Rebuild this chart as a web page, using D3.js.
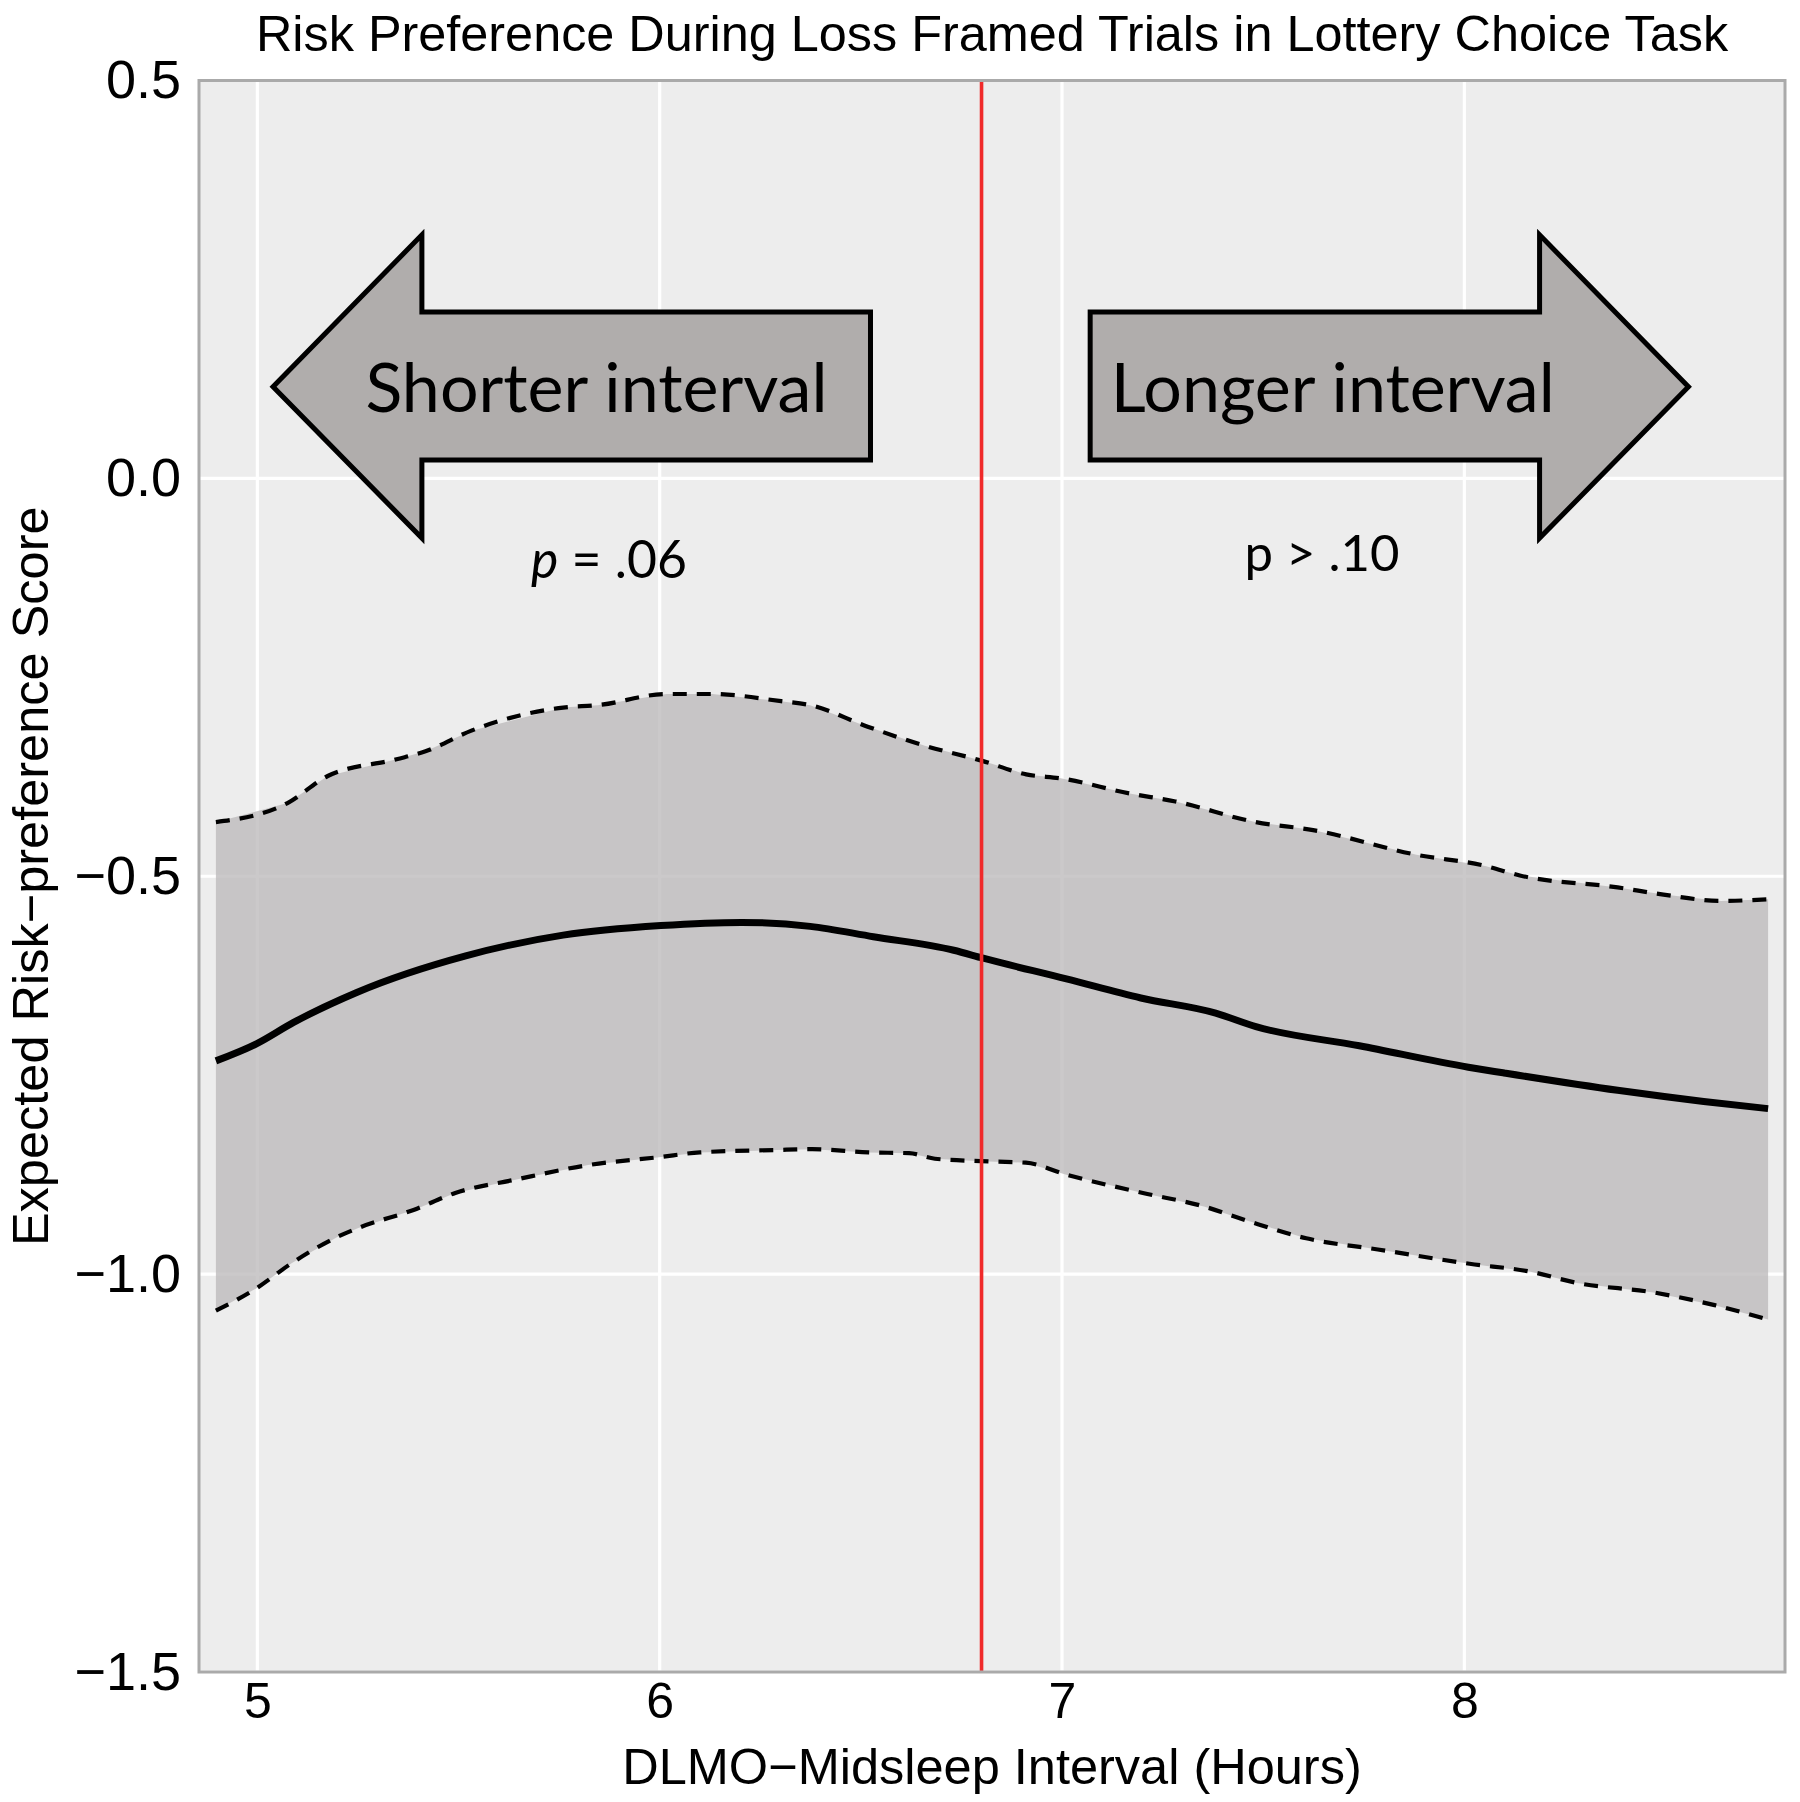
<!DOCTYPE html>
<html>
<head>
<meta charset="utf-8">
<script src="https://cdn.jsdelivr.net/npm/d3@7"></script>
<style>
  html, body { margin: 0; padding: 0; background: #ffffff; }
  svg { display: block; }
</style>
</head>
<body>
<svg id="chart" width="1800" height="1802"></svg>
<script>
// ---------------- data ----------------
const titleText = "Risk Preference During Loss Framed Trials in Lottery Choice Task";
const xLabelText = "DLMO\u2212Midsleep Interval (Hours)";
const yLabelText = "Expected Risk\u2212preference Score";

const xTicks = [5, 6, 7, 8];
const xTickLabels = ["5", "6", "7", "8"];
const yTicks = [0.5, 0.0, -0.5, -1.0, -1.5];
const yTickLabels = ["0.5", "0.0", "\u22120.5", "\u22121.0", "\u22121.5"];

const xDomain = [4.855, 8.797];
const yDomain = [-1.5, 0.5];

const cutoffX = 6.8;

// fitted mean
const fitX = [4.897, 5.0, 5.089, 5.247, 5.518, 5.760, 6.003, 6.203, 6.374, 6.531, 6.731, 6.804, 7.011, 7.196, 7.382, 7.482, 7.739, 8.010, 8.096, 8.381, 8.595, 8.755];
const fitY = [-0.732, -0.710, -0.684, -0.646, -0.600, -0.574, -0.562, -0.558, -0.563, -0.576, -0.593, -0.603, -0.629, -0.653, -0.672, -0.689, -0.713, -0.740, -0.747, -0.769, -0.783, -0.792];

// upper bound
const upperX = [4.897, 5.075, 5.175, 5.346, 5.418, 5.532, 5.760, 5.846, 6.017, 6.131, 6.302, 6.374, 6.517, 6.659, 6.802, 6.911, 6.997, 7.168, 7.282, 7.482, 7.624, 7.881, 8.052, 8.138, 8.381, 8.495, 8.638, 8.755];
const upperY = [-0.432, -0.408, -0.374, -0.353, -0.343, -0.317, -0.288, -0.285, -0.271, -0.271, -0.280, -0.285, -0.312, -0.336, -0.355, -0.372, -0.377, -0.396, -0.406, -0.432, -0.442, -0.473, -0.487, -0.499, -0.514, -0.523, -0.531, -0.529];

// lower bound
const lowerX = [4.897, 4.997, 5.086, 5.200, 5.251, 5.390, 5.492, 5.644, 5.822, 5.999, 6.100, 6.291, 6.379, 6.519, 6.620, 6.684, 6.798, 6.910, 7.011, 7.201, 7.353, 7.455, 7.607, 7.785, 8.013, 8.165, 8.279, 8.470, 8.622, 8.755];
const lowerY = [-1.046, -1.018, -0.986, -0.953, -0.942, -0.919, -0.898, -0.881, -0.863, -0.853, -0.847, -0.844, -0.843, -0.847, -0.848, -0.855, -0.858, -0.860, -0.875, -0.898, -0.915, -0.932, -0.955, -0.969, -0.987, -0.997, -1.011, -1.023, -1.039, -1.057];

// annotation arrows (data units)
const leftArrow  = {tip: 5.039, head: 5.409, tail: 6.524, mid: 0.115, headTop: 0.306, headBottom: -0.075, shaftTop: 0.209, shaftBottom: 0.023, label: "Shorter interval", labelX: 5.843};
const rightArrow = {tip: 8.557, head: 8.187, tail: 7.070, mid: 0.115, headTop: 0.306, headBottom: -0.075, shaftTop: 0.209, shaftBottom: 0.023, label: "Longer interval", labelX: 7.673};
const pLeft  = {x: 5.874, y: -0.125, italic: "p", rest: " = .06"};
const pRight = {x: 7.646, y: -0.116, italic: "", rest: "p > .10"};

// ---------------- layout ----------------
const W = 1800, H = 1802;
const margin = {left: 199, top: 80.5, right: 15, bottom: 130};
const pw = W - margin.left - margin.right;
const ph = H - margin.top - margin.bottom;

const svg = d3.select("#chart");
const x = d3.scaleLinear().domain(xDomain).range([0, pw]);
const y = d3.scaleLinear().domain(yDomain).range([ph, 0]);

const g = svg.append("g").attr("transform", `translate(${margin.left},${margin.top})`);

// panel background
g.append("rect").attr("x", 0).attr("y", 0).attr("width", pw).attr("height", ph)
  .attr("fill", "#ededed");

// grid lines
g.append("g").selectAll("line").data(xTicks).join("line")
  .attr("x1", d => x(d)).attr("x2", d => x(d)).attr("y1", 0).attr("y2", ph)
  .attr("stroke", "#ffffff").attr("stroke-width", 3.2);
g.append("g").selectAll("line").data(yTicks).join("line")
  .attr("x1", 0).attr("x2", pw).attr("y1", d => y(d)).attr("y2", d => y(d))
  .attr("stroke", "#ffffff").attr("stroke-width", 3.2);

// confidence band
const upperPts = upperX.map((v, i) => [v, upperY[i]]);
const lowerPts = lowerX.map((v, i) => [v, lowerY[i]]);
const bandPts = upperPts.concat(lowerPts.slice().reverse());
const polyLine = d3.line().x(d => x(d[0])).y(d => y(d[1]));
g.append("path").attr("d", polyLine(bandPts) + "Z")
  .attr("fill", "#bcbabb").attr("fill-opacity", 0.78).attr("stroke", "none");

// dashed bounds
const dashLine = d3.line().x(d => x(d[0])).y(d => y(d[1])).curve(d3.curveMonotoneX);
[upperPts, lowerPts].forEach(pts => {
  g.append("path").attr("d", dashLine(pts))
    .attr("fill", "none").attr("stroke", "#000").attr("stroke-width", 4.2)
    .attr("stroke-dasharray", "14,10");
});

// fitted line
const fitPts = fitX.map((v, i) => [v, fitY[i]]);
g.append("path").attr("d", d3.line().x(d => x(d[0])).y(d => y(d[1])).curve(d3.curveMonotoneX)(fitPts))
  .attr("fill", "none").attr("stroke", "#000").attr("stroke-width", 7).attr("stroke-linecap", "butt");

// red cutoff line
g.append("line").attr("x1", x(cutoffX)).attr("x2", x(cutoffX)).attr("y1", 0).attr("y2", ph)
  .attr("stroke", "#f02a2a").attr("stroke-width", 3.6);

// panel border
g.append("rect").attr("x", 0).attr("y", 0).attr("width", pw).attr("height", ph)
  .attr("fill", "none").attr("stroke", "#aaaaaa").attr("stroke-width", 3);

// arrows
function arrowPts(a) {
  return [
    [a.tip, a.mid], [a.head, a.headTop], [a.head, a.shaftTop], [a.tail, a.shaftTop],
    [a.tail, a.shaftBottom], [a.head, a.shaftBottom], [a.head, a.headBottom]
  ];
}
[leftArrow, rightArrow].forEach(a => {
  g.append("path").attr("d", polyLine(arrowPts(a)) + "Z")
    .attr("fill", "#b0adac").attr("stroke", "#000").attr("stroke-width", 5)
    .attr("stroke-linejoin", "miter");
});

const calFont = "Lato, 'Open Sans', sans-serif";
function fitText(sel, targetW) {
  const w = sel.node().getComputedTextLength();
  const fs = parseFloat(sel.attr("font-size"));
  sel.attr("font-size", fs * targetW / w);
}
// arrow labels
[[leftArrow, 462], [rightArrow, 444]].forEach(([a, wT]) => {
  const t = g.append("text").attr("x", x(a.labelX)).attr("y", y(a.mid) + 25)
    .attr("text-anchor", "middle").attr("font-family", calFont).attr("font-size", 66)
    .attr("fill", "#000").text(a.label);
  fitText(t, wT);
});

// p-values
[[pLeft, 156], [pRight, 155]].forEach(([p, wTarget]) => {
  const t = g.append("text").attr("x", x(p.x)).attr("y", y(p.y))
    .attr("text-anchor", "middle").attr("font-family", calFont).attr("font-size", 50).attr("fill", "#000");
  if (p.italic) t.append("tspan").attr("font-style", "italic").text(p.italic);
  t.append("tspan").text(p.rest);
  fitText(t, wTarget);
});

// axes
const axFont = "'Liberation Sans', Arial, Helvetica, sans-serif";
const xAxis = d3.axisBottom(x).tickValues(xTicks).tickFormat((d, i) => xTickLabels[i]).tickSize(0).tickPadding(10);
const xg = g.append("g").attr("transform", `translate(0,${ph})`).call(xAxis);
xg.select(".domain").remove();
xg.selectAll("text").attr("font-family", axFont).attr("font-size", 50).attr("fill", "#000");

const yAxis = d3.axisLeft(y).tickValues(yTicks).tickFormat((d, i) => yTickLabels[i]).tickSize(0).tickPadding(18);
const yg = g.append("g").call(yAxis);
yg.select(".domain").remove();
yg.selectAll("text").attr("font-family", axFont).attr("font-size", 54).attr("fill", "#000");

// title
svg.append("text").attr("x", margin.left + pw / 2).attr("y", 51)
  .attr("text-anchor", "middle").attr("font-family", axFont).attr("font-size", 50.4)
  .attr("fill", "#000").text(titleText);

// axis titles
svg.append("text").attr("x", margin.left + pw / 2).attr("y", 1784)
  .attr("text-anchor", "middle").attr("font-family", axFont).attr("font-size", 50.5)
  .attr("fill", "#000").text(xLabelText);
svg.append("text").attr("transform", `translate(48,${margin.top + y(-0.5)}) rotate(-90)`)
  .attr("text-anchor", "middle").attr("font-family", axFont).attr("font-size", 50.5)
  .attr("fill", "#000").text(yLabelText);
</script>
</body>
</html>
